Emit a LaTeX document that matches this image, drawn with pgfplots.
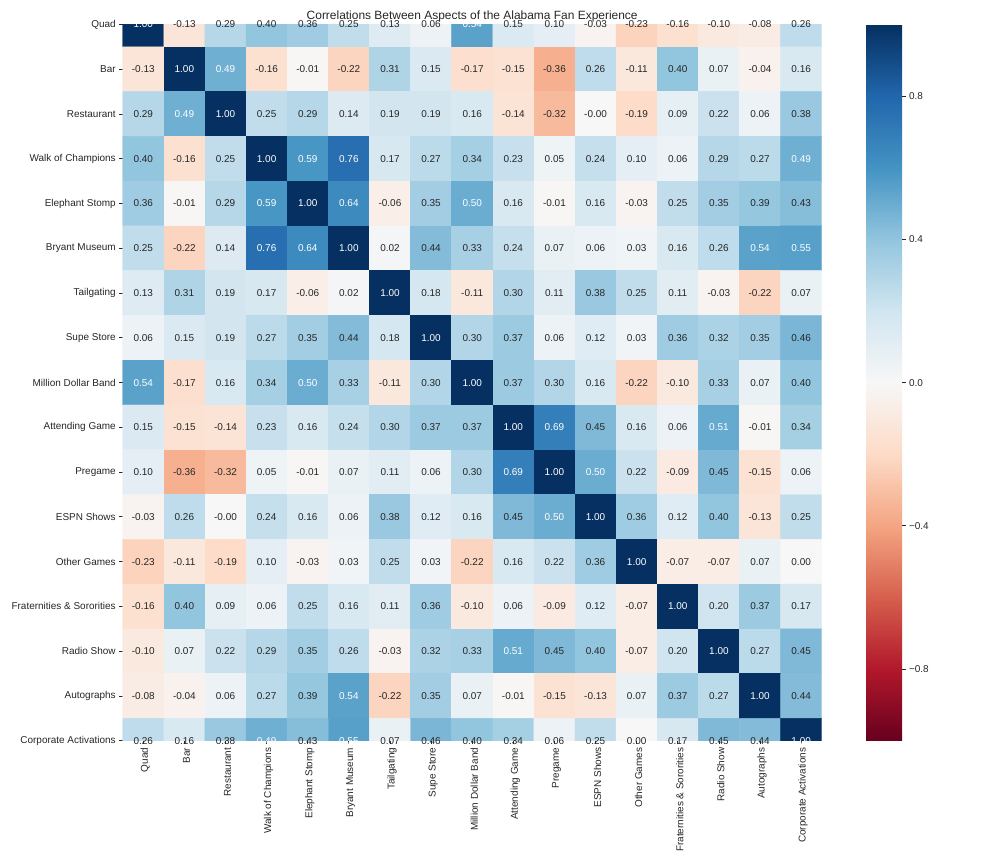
\documentclass[border=0pt]{standalone}
\usepackage{pgfplots}
\usepackage{pgfplotstable}
\pgfplotsset{compat=1.18}
\usepackage{fontspec}
\setmainfont{Liberation Sans}
\definecolor{lbl}{RGB}{38,38,38}
\pgfplotstableread[row sep=\\]{
x y c\\
0 0 1.00\\ 1 0 -0.13\\ 2 0 0.29\\ 3 0 0.40\\ 4 0 0.36\\ 5 0 0.25\\ 6 0 0.13\\ 7 0 0.06\\ 8 0 0.54\\ 9 0 0.15\\ 10 0 0.10\\ 11 0 -0.03\\ 12 0 -0.23\\ 13 0 -0.16\\ 14 0 -0.10\\ 15 0 -0.08\\ 16 0 0.26\\
0 1 -0.13\\ 1 1 1.00\\ 2 1 0.49\\ 3 1 -0.16\\ 4 1 -0.01\\ 5 1 -0.22\\ 6 1 0.31\\ 7 1 0.15\\ 8 1 -0.17\\ 9 1 -0.15\\ 10 1 -0.36\\ 11 1 0.26\\ 12 1 -0.11\\ 13 1 0.40\\ 14 1 0.07\\ 15 1 -0.04\\ 16 1 0.16\\
0 2 0.29\\ 1 2 0.49\\ 2 2 1.00\\ 3 2 0.25\\ 4 2 0.29\\ 5 2 0.14\\ 6 2 0.19\\ 7 2 0.19\\ 8 2 0.16\\ 9 2 -0.14\\ 10 2 -0.32\\ 11 2 -0.00\\ 12 2 -0.19\\ 13 2 0.09\\ 14 2 0.22\\ 15 2 0.06\\ 16 2 0.38\\
0 3 0.40\\ 1 3 -0.16\\ 2 3 0.25\\ 3 3 1.00\\ 4 3 0.59\\ 5 3 0.76\\ 6 3 0.17\\ 7 3 0.27\\ 8 3 0.34\\ 9 3 0.23\\ 10 3 0.05\\ 11 3 0.24\\ 12 3 0.10\\ 13 3 0.06\\ 14 3 0.29\\ 15 3 0.27\\ 16 3 0.49\\
0 4 0.36\\ 1 4 -0.01\\ 2 4 0.29\\ 3 4 0.59\\ 4 4 1.00\\ 5 4 0.64\\ 6 4 -0.06\\ 7 4 0.35\\ 8 4 0.50\\ 9 4 0.16\\ 10 4 -0.01\\ 11 4 0.16\\ 12 4 -0.03\\ 13 4 0.25\\ 14 4 0.35\\ 15 4 0.39\\ 16 4 0.43\\
0 5 0.25\\ 1 5 -0.22\\ 2 5 0.14\\ 3 5 0.76\\ 4 5 0.64\\ 5 5 1.00\\ 6 5 0.02\\ 7 5 0.44\\ 8 5 0.33\\ 9 5 0.24\\ 10 5 0.07\\ 11 5 0.06\\ 12 5 0.03\\ 13 5 0.16\\ 14 5 0.26\\ 15 5 0.54\\ 16 5 0.55\\
0 6 0.13\\ 1 6 0.31\\ 2 6 0.19\\ 3 6 0.17\\ 4 6 -0.06\\ 5 6 0.02\\ 6 6 1.00\\ 7 6 0.18\\ 8 6 -0.11\\ 9 6 0.30\\ 10 6 0.11\\ 11 6 0.38\\ 12 6 0.25\\ 13 6 0.11\\ 14 6 -0.03\\ 15 6 -0.22\\ 16 6 0.07\\
0 7 0.06\\ 1 7 0.15\\ 2 7 0.19\\ 3 7 0.27\\ 4 7 0.35\\ 5 7 0.44\\ 6 7 0.18\\ 7 7 1.00\\ 8 7 0.30\\ 9 7 0.37\\ 10 7 0.06\\ 11 7 0.12\\ 12 7 0.03\\ 13 7 0.36\\ 14 7 0.32\\ 15 7 0.35\\ 16 7 0.46\\
0 8 0.54\\ 1 8 -0.17\\ 2 8 0.16\\ 3 8 0.34\\ 4 8 0.50\\ 5 8 0.33\\ 6 8 -0.11\\ 7 8 0.30\\ 8 8 1.00\\ 9 8 0.37\\ 10 8 0.30\\ 11 8 0.16\\ 12 8 -0.22\\ 13 8 -0.10\\ 14 8 0.33\\ 15 8 0.07\\ 16 8 0.40\\
0 9 0.15\\ 1 9 -0.15\\ 2 9 -0.14\\ 3 9 0.23\\ 4 9 0.16\\ 5 9 0.24\\ 6 9 0.30\\ 7 9 0.37\\ 8 9 0.37\\ 9 9 1.00\\ 10 9 0.69\\ 11 9 0.45\\ 12 9 0.16\\ 13 9 0.06\\ 14 9 0.51\\ 15 9 -0.01\\ 16 9 0.34\\
0 10 0.10\\ 1 10 -0.36\\ 2 10 -0.32\\ 3 10 0.05\\ 4 10 -0.01\\ 5 10 0.07\\ 6 10 0.11\\ 7 10 0.06\\ 8 10 0.30\\ 9 10 0.69\\ 10 10 1.00\\ 11 10 0.50\\ 12 10 0.22\\ 13 10 -0.09\\ 14 10 0.45\\ 15 10 -0.15\\ 16 10 0.06\\
0 11 -0.03\\ 1 11 0.26\\ 2 11 -0.00\\ 3 11 0.24\\ 4 11 0.16\\ 5 11 0.06\\ 6 11 0.38\\ 7 11 0.12\\ 8 11 0.16\\ 9 11 0.45\\ 10 11 0.50\\ 11 11 1.00\\ 12 11 0.36\\ 13 11 0.12\\ 14 11 0.40\\ 15 11 -0.13\\ 16 11 0.25\\
0 12 -0.23\\ 1 12 -0.11\\ 2 12 -0.19\\ 3 12 0.10\\ 4 12 -0.03\\ 5 12 0.03\\ 6 12 0.25\\ 7 12 0.03\\ 8 12 -0.22\\ 9 12 0.16\\ 10 12 0.22\\ 11 12 0.36\\ 12 12 1.00\\ 13 12 -0.07\\ 14 12 -0.07\\ 15 12 0.07\\ 16 12 0.00\\
0 13 -0.16\\ 1 13 0.40\\ 2 13 0.09\\ 3 13 0.06\\ 4 13 0.25\\ 5 13 0.16\\ 6 13 0.11\\ 7 13 0.36\\ 8 13 -0.10\\ 9 13 0.06\\ 10 13 -0.09\\ 11 13 0.12\\ 12 13 -0.07\\ 13 13 1.00\\ 14 13 0.20\\ 15 13 0.37\\ 16 13 0.17\\
0 14 -0.10\\ 1 14 0.07\\ 2 14 0.22\\ 3 14 0.29\\ 4 14 0.35\\ 5 14 0.26\\ 6 14 -0.03\\ 7 14 0.32\\ 8 14 0.33\\ 9 14 0.51\\ 10 14 0.45\\ 11 14 0.40\\ 12 14 -0.07\\ 13 14 0.20\\ 14 14 1.00\\ 15 14 0.27\\ 16 14 0.45\\
0 15 -0.08\\ 1 15 -0.04\\ 2 15 0.06\\ 3 15 0.27\\ 4 15 0.39\\ 5 15 0.54\\ 6 15 -0.22\\ 7 15 0.35\\ 8 15 0.07\\ 9 15 -0.01\\ 10 15 -0.15\\ 11 15 -0.13\\ 12 15 0.07\\ 13 15 0.37\\ 14 15 0.27\\ 15 15 1.00\\ 16 15 0.44\\
0 16 0.26\\ 1 16 0.16\\ 2 16 0.38\\ 3 16 0.49\\ 4 16 0.43\\ 5 16 0.55\\ 6 16 0.07\\ 7 16 0.46\\ 8 16 0.40\\ 9 16 0.34\\ 10 16 0.06\\ 11 16 0.25\\ 12 16 0.00\\ 13 16 0.17\\ 14 16 0.45\\ 15 16 0.44\\ 16 16 1.00\\
}\corr
\begin{document}
\begin{tikzpicture}
\path[use as bounding box] (0,0) rectangle (1008bp,864bp);
\begin{axis}[
  at={(122.7bp,123.3bp)}, anchor=south west,
  scale only axis, width=699bp, height=716.2bp,
  xmin=-0.5, xmax=16.5, ymin=0, ymax=16, y dir=reverse,
  clip mode=individual,
  colormap={RdBu}{rgb255=(103,0,31) rgb255=(178,24,43) rgb255=(214,96,77) rgb255=(244,165,130) rgb255=(253,219,199) rgb255=(247,247,247) rgb255=(209,229,240) rgb255=(146,197,222) rgb255=(67,147,195) rgb255=(33,102,172) rgb255=(5,48,97)},
  point meta min=-1, point meta max=1,
  xtick={0,...,16}, ytick={0,...,16},
  xticklabels={Quad,Bar,Restaurant,Walk of Champions,Elephant Stomp,Bryant Museum,Tailgating,Supe Store,Million Dollar Band,Attending Game,Pregame,ESPN Shows,Other Games,Fraternities \& Sororities,Radio Show,Autographs,Corporate Activations},
  yticklabels={Quad,Bar,Restaurant,Walk of Champions,Elephant Stomp,Bryant Museum,Tailgating,Supe Store,Million Dollar Band,Attending Game,Pregame,ESPN Shows,Other Games,Fraternities \& Sororities,Radio Show,Autographs,Corporate Activations},
  xticklabel style={rotate=90, anchor=east, yshift=-2bp},
  ticklabel style={font=\fontsize{10}{12}\selectfont, text=lbl},
  tick align=outside, major tick length=3.5bp,
  tick style={color=lbl, line width=0.8bp},
  xtick pos=bottom, ytick pos=left,
  axis line style={draw=none},
  title={Correlations Between Aspects of the Alabama Fan Experience},
  title style={font=\fontsize{12}{14}\selectfont, text=lbl, at={(0.5,1)}, anchor=base, yshift=-1bp},
  colorbar,
  colorbar/width=36bp,
  colorbar style={
    xshift=35.8bp,
    width=36bp, height=716.2bp,
    ytick={-0.8,-0.4,0,0.4,0.8},
    yticklabels={−0.8,−0.4,0.0,0.4,0.8},
    axis line style={draw=none},
    tick align=outside, major tick length=3.5bp,
    tick style={color=lbl, line width=0.8bp},
    ytick pos=right, yticklabel pos=right,
    yticklabel style={font=\fontsize{10}{12}\selectfont, text=lbl},
  },
]
\addplot[matrix plot*, mesh/cols=17, point meta=\thisrow{c}] table[x=x, y=y] {\corr};
\addplot[only marks, mark=*, mark size=0pt, mark options={draw=none, fill=none},
  point meta=explicit symbolic,
  restrict expr to domain={\thisrow{c}}{-1.5:0.47},
  nodes near coords={\pgfplotspointmeta},
  every node near coord/.append style={anchor=center, text=lbl, font=\fontsize{10}{12}\selectfont, inner sep=0pt}
] table[x=x, y=y, meta=c] {\corr};
\addplot[only marks, mark=*, mark size=0pt, mark options={draw=none, fill=none},
  point meta=explicit symbolic,
  restrict expr to domain={\thisrow{c}}{0.47:1.5},
  nodes near coords={\pgfplotspointmeta},
  every node near coord/.append style={anchor=center, text=white, font=\fontsize{10}{12}\selectfont, inner sep=0pt}
] table[x=x, y=y, meta=c] {\corr};
\end{axis}
\end{tikzpicture}
\end{document}
